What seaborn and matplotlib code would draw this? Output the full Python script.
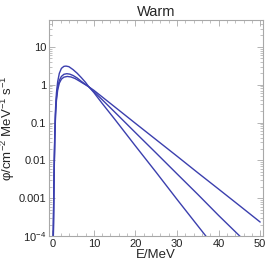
import numpy as np
import pandas as pd
import matplotlib
matplotlib.use("Agg")
import matplotlib.pyplot as plt
import seaborn as sns

# spectra (E in MeV, flux in cm^-2 MeV^-1 s^-1)
energy_a = [0.25, 0.4, 0.6, 0.8, 1.0, 1.3, 1.7, 2.2, 2.8, 3.3, 4.0, 5.0, 6.0, 7.0, 8.0, 8.65,
            10, 12, 15, 20, 25, 30, 35, 38]
flux_a = [1e-4, 0.003, 0.05, 0.25, 0.6, 1.2, 2.0, 2.7, 3.05, 3.1, 2.99, 2.5, 2.0, 1.53, 1.15, 0.92,
          0.62, 0.32, 0.123, 0.024, 0.0048, 0.00093, 1.86e-4, 7.1e-5]

energy_b = [0.25, 0.4, 0.6, 0.8, 1.0, 1.3, 1.7, 2.2, 2.8, 3.5, 4.2, 5.0, 6.0, 7.0, 8.65,
            10, 15, 20, 25, 30, 35, 40, 45, 47]
flux_b = [1e-4, 0.0025, 0.04, 0.2, 0.45, 0.85, 1.3, 1.65, 1.88, 1.95, 1.9, 1.75, 1.5, 1.22, 0.9,
          0.66, 0.19, 0.054, 0.0155, 0.0044, 0.00126, 3.5e-4, 1.02e-4, 6.3e-5]

energy_c = [0.25, 0.4, 0.6, 0.8, 1.0, 1.3, 1.7, 2.2, 2.8, 3.6, 4.5, 5.5, 6.5, 7.5, 8.65,
            10, 15, 20, 25, 30, 35, 40, 45, 50]
flux_c = [1e-4, 0.002, 0.035, 0.17, 0.38, 0.72, 1.1, 1.4, 1.58, 1.65, 1.6, 1.45, 1.25, 1.07, 0.9,
          0.71, 0.26, 0.095, 0.035, 0.0129, 0.0047, 0.00174, 6.4e-4, 2.34e-4]

y_ticks = [1e-4, 1e-3, 1e-2, 0.1, 1, 10]
y_labels = ["$10^{-4}$", "0.001", "0.01", "0.1", "1", "10"]
x_ticks = [0, 10, 20, 30, 40, 50]

df = pd.concat([
    pd.DataFrame({"E": energy_a, "flux": flux_a, "curve": "a"}),
    pd.DataFrame({"E": energy_b, "flux": flux_b, "curve": "b"}),
    pd.DataFrame({"E": energy_c, "flux": flux_c, "curve": "c"}),
])

sns.set_style("ticks")
plt.rcParams["font.family"] = ["Liberation Sans", "DejaVu Sans"]
plt.rcParams["mathtext.fontset"] = "custom"
plt.rcParams["mathtext.rm"] = "Liberation Sans"
plt.rcParams["mathtext.it"] = "Liberation Sans:italic"
plt.rcParams["mathtext.default"] = "rm"

line_color = "#3b3fae"
frame_color = "#a8a8a8"

fig = plt.figure(figsize=(2.66, 2.64), dpi=100)
ax = fig.add_axes([0.184, 0.106, 0.805, 0.818])

sns.lineplot(data=df, x="E", y="flux", hue="curve", units="curve", estimator=None,
             sort=False, palette=[line_color] * 3, linewidth=1.0, legend=False, ax=ax)

ax.set_yscale("log")
ax.set_xlim(-0.8, 50.7)
ax.set_ylim(1e-4, 51)

ax.set_yticks(y_ticks)
ax.set_yticklabels(y_labels)
ax.set_xticks(x_ticks)
ax.set_xticks(np.arange(0, 51, 2), minor=True)

for side in ax.spines.values():
    side.set_color(frame_color)
    side.set_linewidth(0.8)
ax.tick_params(which="both", direction="in", top=True, right=True, color=frame_color,
               labelsize=8, labelcolor="#222222", pad=2)
ax.tick_params(which="major", length=4, width=0.6)
ax.tick_params(which="minor", length=2, width=0.5)

ax.set_title("Warm", fontsize=10.5, pad=3)
ax.set_xlabel("E/MeV", fontsize=9.5, labelpad=0)
ax.set_ylabel("φ/cm$^{-2}$ MeV$^{-1}$ s$^{-1}$", fontsize=9.5, labelpad=1)

fig.savefig("out.png", dpi=100)
